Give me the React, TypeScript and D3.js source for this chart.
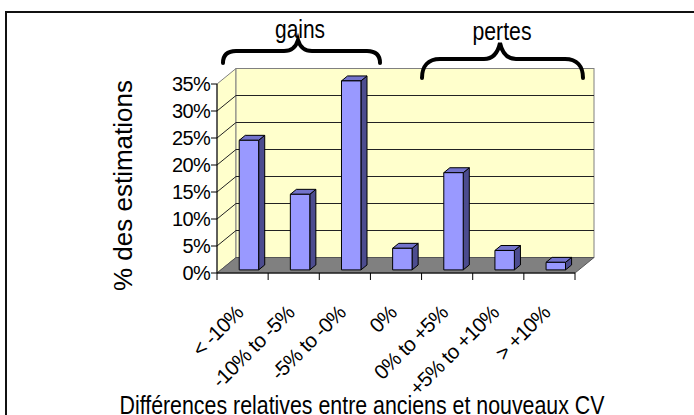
import React from "react";
import * as d3 from "d3";

const categories = ["< -10%", "-10% to -5%", "-5% to -0%", "0%", "0% to +5%", "+5% to +10%", "> +10%"];
const values = [24, 14, 35, 4, 18, 3.6, 1.4];
const yTicks = [0, 5, 10, 15, 20, 25, 30, 35];
const groupLabels = ["gains", "pertes"];
const yTitle = "% des estimations";
const xTitle = "Différences relatives entre anciens et nouveaux CV";

const W = 694;
const H = 415;
const X0 = 217;
const X1 = 575;
const DX = 19;
const DY = -15.5;
const FONT = "'Liberation Sans', Arial, sans-serif";

export default function App() {
  const x = d3.scaleBand<string>().domain(categories).range([X0, X1]).paddingInner(0).paddingOuter(0);
  const y = d3.scaleLinear().domain([0, 35]).range([273, 84]);
  const bw = x.bandwidth();
  const d1 = 0.2;
  const d2 = 0.52;
  const o1x = DX * d1, o1y = DY * d1;
  const o2x = DX * d2, o2y = DY * d2;
  const pts = (a: number[][]) => a.map((p) => p.join(",")).join(" ");

  const yMin = y(0), yMax = y(35);

  return (
    <svg width={W} height={H} style={{ position: "absolute", left: 0, top: 0 }} fontFamily={FONT}>
      <rect x={0} y={0} width={W} height={H} fill="#fff" />
      <rect x={6} y={12} width={700} height={420} fill="none" stroke="#111" strokeWidth={2} />

      {/* left wall */}
      <polygon
        points={pts([[X0, yMax], [X0 + DX, yMax + DY], [X0 + DX, yMin + DY], [X0, yMin]])}
        fill="#FFFFCC"
        stroke="#808080"
      />
      {/* back wall */}
      <rect x={X0 + DX} y={yMax + DY} width={X1 - X0} height={yMin - yMax} fill="#FFFFCC" stroke="#808080" />
      {/* gridlines */}
      {yTicks.filter((t) => t > 0 && t < 35).map((t) => (
        <g key={t}>
          <line x1={X0} y1={y(t)} x2={X0 + DX} y2={y(t) + DY} stroke="#222" strokeWidth={1} />
          <line x1={X0 + DX} y1={y(t) + DY} x2={X1 + DX} y2={y(t) + DY} stroke="#222" strokeWidth={1} />
        </g>
      ))}
      {/* floor */}
      <polygon
        points={pts([[X0, yMin], [X1, yMin], [X1 + DX, yMin + DY], [X0 + DX, yMin + DY]])}
        fill="#808080"
        stroke="#555"
      />

      {/* bars */}
      {categories.map((c, i) => {
        const v = values[i];
        const xl = (x(c) as number) + 0.36 * bw;
        const xr = xl + 0.38 * bw;
        const yt = y(v);
        const yb = y(0);
        const front = [[xl + o1x, yt + o1y], [xr + o1x, yt + o1y], [xr + o1x, yb + o1y], [xl + o1x, yb + o1y]];
        const top = [[xl + o1x, yt + o1y], [xr + o1x, yt + o1y], [xr + o2x, yt + o2y], [xl + o2x, yt + o2y]];
        const side = [[xr + o1x, yt + o1y], [xr + o2x, yt + o2y], [xr + o2x, yb + o2y], [xr + o1x, yb + o1y]];
        return (
          <g key={c} stroke="#000" strokeWidth={1} strokeLinejoin="round">
            <polygon points={pts(side)} fill="#4C4C8F" />
            <polygon points={pts(top)} fill="#7373CC" />
            <polygon points={pts(front)} fill="#9999FF" />
          </g>
        );
      })}

      {/* y axis */}
      <line x1={X0} y1={yMax} x2={X0} y2={yMin} stroke="#000" />
      {yTicks.map((t) => (
        <g key={t}>
          <line x1={X0 - 6} y1={y(t)} x2={X0} y2={y(t)} stroke="#000" />
          <text x={210} y={y(t)} dy="0.35em" textAnchor="end" fontSize={20} letterSpacing={-0.7} fill="#000">
            {t + "%"}
          </text>
        </g>
      ))}
      {/* x axis */}
      <line x1={X0} y1={yMin} x2={X1} y2={yMin} stroke="#000" />
      {d3.range(categories.length + 1).map((i) => {
        const xx = X0 + i * bw;
        return <line key={i} x1={xx} y1={yMin} x2={xx} y2={yMin + 7} stroke="#000" />;
      })}
      {categories.map((c) => {
        const cx = (x(c) as number) + bw / 2 + 2;
        const cy = 314;
        return (
          <text key={c} x={cx} y={cy} textAnchor="end" fontSize={20.5} letterSpacing={-0.6} fill="#000" transform={`rotate(-45 ${cx} ${cy})`}>
            {c}
          </text>
        );
      })}

      {/* titles */}
      <text transform="translate(132,185.5) rotate(-90)" textAnchor="middle" fontSize={26} fill="#000">
        {yTitle}
      </text>
      <text x={362} y={414} textAnchor="middle" fontSize={25} fill="#000" textLength={485} lengthAdjust="spacingAndGlyphs">
        {xTitle}
      </text>

      {/* group braces */}
      <text x={300} y={38} textAnchor="middle" fontSize={26} fill="#000" textLength={50} lengthAdjust="spacingAndGlyphs">
        {groupLabels[0]}
      </text>
      <text x={502} y={40} textAnchor="middle" fontSize={26} fill="#000" textLength={59} lengthAdjust="spacingAndGlyphs">
        {groupLabels[1]}
      </text>
      <path
        d="M223,63 C223,55 227,51 236,51 L284,51 C292,51 296,47 298,40 C300,47 304,51 312,51 L367,51 C376,51 380,55 380,63"
        fill="none"
        stroke="#000"
        strokeWidth={4}
        strokeLinecap="round"
      />
      <path
        d="M422,78 C422,66 428,59 440,59 L484,59 C494,59 498,52 500,43 C502,52 506,59 516,59 L565,59 C577,59 583,66 583,78"
        fill="none"
        stroke="#000"
        strokeWidth={4}
        strokeLinecap="round"
      />
    </svg>
  );
}
